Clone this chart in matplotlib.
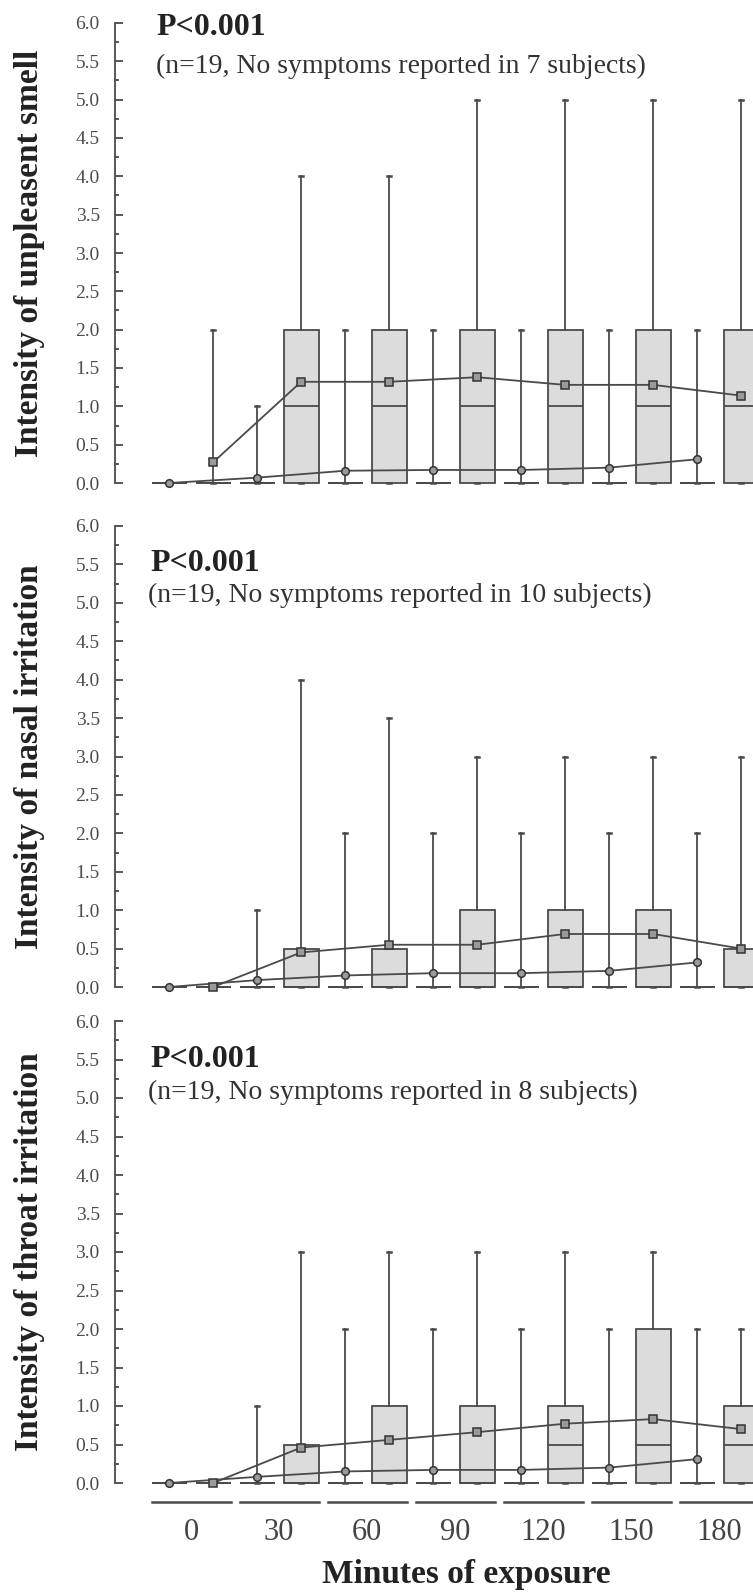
import numpy as np
import matplotlib.pyplot as plt
from matplotlib.ticker import MultipleLocator

plt.rcParams['font.family'] = ['Liberation Serif', 'DejaVu Serif']

# ==========================
# Data
# ==========================
times = [0, 30, 60, 90, 120, 150, 180]

# left box of each pair
smell_a_hi = [0, 1, 2, 2, 2, 2, 2]
smell_a_q3 = [0, 0, 0, 0, 0, 0, 0]
smell_a_med = [0, 0, 0, 0, 0, 0, 0]
smell_a_mean = [0, 0.07, 0.16, 0.17, 0.17, 0.20, 0.31]
# right box of each pair
smell_b_hi = [2, 4, 4, 5, 5, 5, 5]
smell_b_q3 = [0, 2, 2, 2, 2, 2, 2]
smell_b_med = [0, 1, 1, 1, 1, 1, 1]
smell_b_mean = [0.27, 1.32, 1.32, 1.38, 1.28, 1.28, 1.14]

nasal_a_hi = [0, 1, 2, 2, 2, 2, 2]
nasal_a_q3 = [0, 0, 0, 0, 0, 0, 0]
nasal_a_med = [0, 0, 0, 0, 0, 0, 0]
nasal_a_mean = [0, 0.09, 0.15, 0.18, 0.18, 0.21, 0.32]
nasal_b_hi = [0, 4, 3.5, 3, 3, 3, 3]
nasal_b_q3 = [0, 0.5, 0.5, 1, 1, 1, 0.5]
nasal_b_med = [0, 0, 0, 0, 0, 0, 0]
nasal_b_mean = [0, 0.45, 0.55, 0.55, 0.69, 0.69, 0.50]

throat_a_hi = [0, 1, 2, 2, 2, 2, 2]
throat_a_q3 = [0, 0, 0, 0, 0, 0, 0]
throat_a_med = [0, 0, 0, 0, 0, 0, 0]
throat_a_mean = [0, 0.08, 0.15, 0.17, 0.17, 0.20, 0.31]
throat_b_hi = [0, 3, 3, 3, 3, 3, 2]
throat_b_q3 = [0, 0.5, 1, 1, 1, 2, 1]
throat_b_med = [0, 0, 0, 0, 0.5, 0.5, 0.5]
throat_b_mean = [0, 0.46, 0.56, 0.66, 0.77, 0.83, 0.70]

ylabels = ["Intensity of unpleasent smell",
           "Intensity of nasal irritation",
           "Intensity of throat irritation"]
no_symptoms = [7, 10, 8]
p_text = "P<0.001"
n_total = 19

panels = [
    (smell_a_hi, smell_a_q3, smell_a_med, smell_a_mean,
     smell_b_hi, smell_b_q3, smell_b_med, smell_b_mean),
    (nasal_a_hi, nasal_a_q3, nasal_a_med, nasal_a_mean,
     nasal_b_hi, nasal_b_q3, nasal_b_med, nasal_b_mean),
    (throat_a_hi, throat_a_q3, throat_a_med, throat_a_mean,
     throat_b_hi, throat_b_q3, throat_b_med, throat_b_mean),
]

# ==========================
# Layout (pixels of the 753x1593 output)
# ==========================
W, H = 753, 1593
ax_left_px = 115
y_zero_px = [483, 987, 1483]
y_six_px = [23, 526, 1021]
p_pos = [(156, 35), (150, 571), (150, 1067)]
sub_pos = [(156, 73), (148, 602), (148, 1099)]

line_col = '#4a4a4a'
box_fill = '#dcdcdc'
text_col = '#333333'

fig = plt.figure(figsize=(W / 100, H / 100), dpi=100)


def make_stats(hi, q3, med, mean):
    return [dict(whislo=0, q1=0, med=m, q3=q, whishi=h, mean=mn, fliers=[])
            for h, q, m, mn in zip(hi, q3, med, mean)]


axes = []
for k, data in enumerate(panels):
    a_hi, a_q3, a_med, a_mean, b_hi, b_q3, b_med, b_mean = data
    ppu = (y_zero_px[k] - y_six_px[k]) / 6.0
    top = y_six_px[k] - 0.1 * ppu
    bot = y_zero_px[k] + 0.1 * ppu
    ax = fig.add_axes([ax_left_px / W, 1 - bot / H, 1 - ax_left_px / W, (bot - top) / H])
    axes.append(ax)

    pos_a = np.arange(len(times)) * 2
    pos_b = pos_a + 1

    style = dict(widths=0.8, patch_artist=True, showfliers=False, capwidths=0.1,
                 boxprops=dict(facecolor=box_fill, edgecolor=line_col, linewidth=1.3),
                 medianprops=dict(color=line_col, linewidth=1.3),
                 whiskerprops=dict(color=line_col, linewidth=1.3),
                 capprops=dict(color=line_col, linewidth=1.8))
    ax.bxp(make_stats(a_hi, a_q3, a_med, a_mean), positions=pos_a, **style)
    ax.bxp(make_stats(b_hi, b_q3, b_med, b_mean), positions=pos_b, **style)

    ax.plot(pos_a, a_mean, '-o', color=line_col, lw=1.3, ms=5.5,
            mfc='#9a9a9a', mec='#333333', mew=1.1, zorder=5)
    ax.plot(pos_b, b_mean, '-s', color=line_col, lw=1.3, ms=5.5,
            mfc='#9a9a9a', mec='#333333', mew=1.1, zorder=5)

    ax.set_xlim(-1.23, 13.27)
    ax.set_ylim(-0.1, 6.1)
    for s in ['top', 'right', 'bottom']:
        ax.spines[s].set_visible(False)
    ax.spines['left'].set_bounds(0, 6)
    ax.spines['left'].set_color(line_col)
    ax.spines['left'].set_linewidth(1.3)
    ax.set_xticks([])
    ax.yaxis.set_major_locator(MultipleLocator(0.5))
    ax.yaxis.set_minor_locator(MultipleLocator(0.25))
    ax.set_yticks(np.arange(0, 6.01, 0.5))
    ax.set_yticklabels([f"{v:.1f}" for v in np.arange(0, 6.01, 0.5)])
    ax.tick_params(axis='y', which='major', direction='in', length=6, width=1.3,
                   color=line_col, labelsize=14, labelcolor='#4d4d4d', pad=11)
    ax.tick_params(axis='y', which='minor', direction='in', length=3, width=1.3,
                   color=line_col)

    # labels and annotations
    fig.text(30 / W, 1 - (y_zero_px[k] + y_six_px[k]) / 2 / H, ylabels[k],
             rotation=90, ha='center', va='center', fontsize=24,
             fontweight='bold', color='#222222')
    fig.text(p_pos[k][0] / W, 1 - p_pos[k][1] / H, p_text, fontsize=23,
             fontweight='bold', color='#222222', va='baseline')
    fig.text(sub_pos[k][0] / W, 1 - sub_pos[k][1] / H,
             f"(n={n_total}, No symptoms reported in {no_symptoms[k]} subjects)",
             fontsize=20, color=text_col, va='baseline')

# group segments and time labels under the last panel
ax = axes[-1]
for i, t in enumerate(times):
    c = 2 * i + 0.5
    ax.plot([c - 0.9, c + 0.9], [-0.25, -0.25], color=line_col, lw=1.8,
            clip_on=False)
    ax.text(c, -0.64, str(t), ha='center', va='center', fontsize=22,
            color='#444444', clip_on=False)

fig.text(466 / W, 1 - 1575 / H, "Minutes of exposure", ha='center', va='center',
         fontsize=24, fontweight='bold', color='#222222')

fig.savefig("out.png", dpi=100)
